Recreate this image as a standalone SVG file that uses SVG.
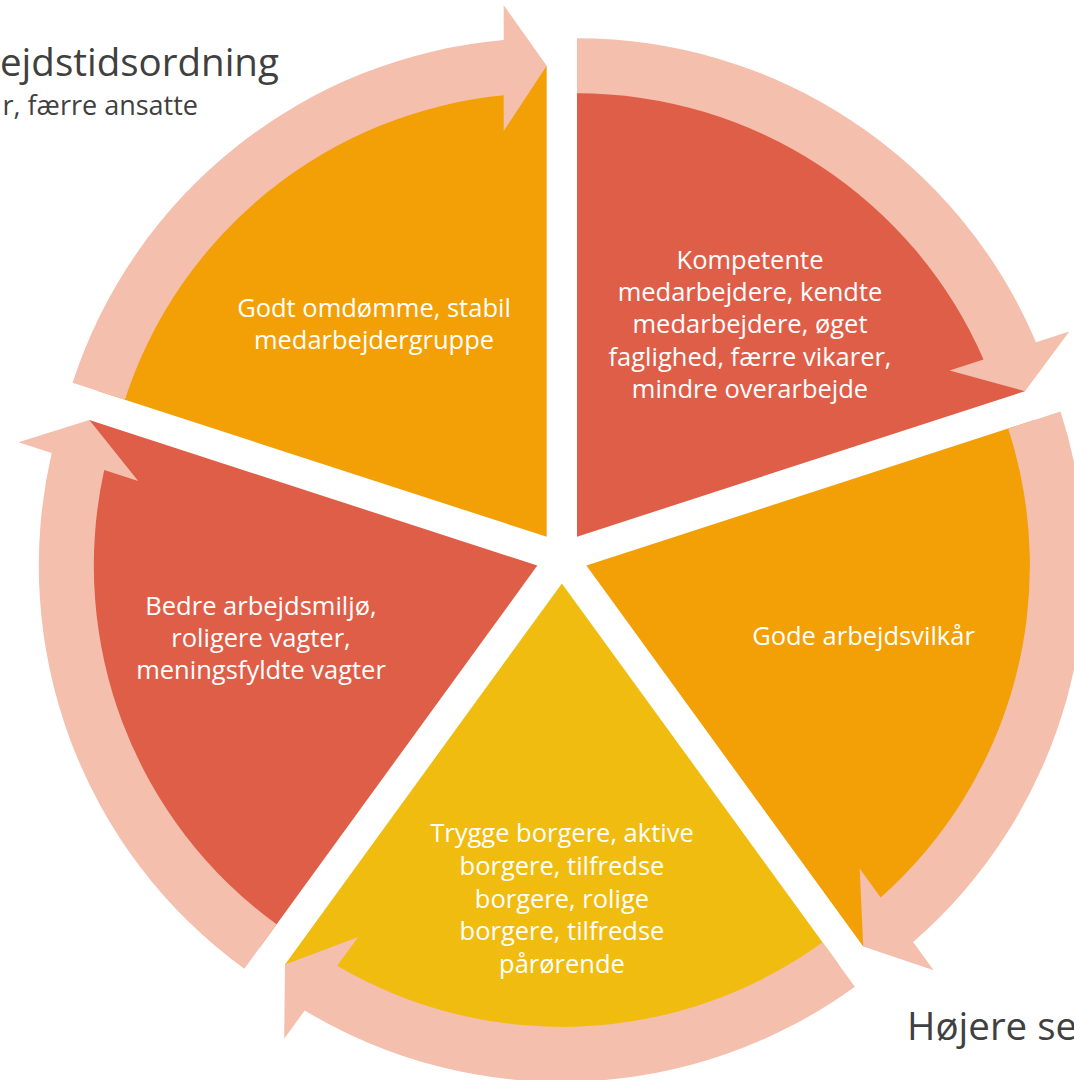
<svg xmlns="http://www.w3.org/2000/svg" width="1074" height="1080" viewBox="0 0 1074 1080">
<style>
.lbl{font-family:"Open Sans","Noto Sans",sans-serif;font-size:25.5px;fill:#FFFFFF;text-anchor:middle}
.out{font-family:"Open Sans","Noto Sans",sans-serif;fill:#404040}
.arrow{fill:#F4BFAD}
.red{fill:#DF5E48}
.orange{fill:#F2A006}
.yellow{fill:#F0BC0F}
</style>
<defs>
<path id="seg" d="M15.165 -20.873 L15.165 -491.873 A471 471 0 0 1 463.115 -166.423 Z"/>
<path id="arr" d="M15.165 -519.373 A498.5 498.5 0 0 1 474.225 -215.243 L507.455 -226.043 L463.115 -166.423 L387.715 -187.143 L421.665 -198.203 A443.5 443.5 0 0 0 15.165 -464.373 Z"/>
</defs>
<rect width="1074" height="1080" fill="#FFFFFF"/>
<g id="node-kompetente">
<use href="#seg" class="red" transform="translate(561.85 557.6)"/>
<text class="lbl" x="750" y="269">Kompetente</text>
<text class="lbl" x="750" y="301">medarbejdere, kendte</text>
<text class="lbl" x="750" y="333">medarbejdere, øget</text>
<text class="lbl" x="750" y="366">faglighed, færre vikarer,</text>
<text class="lbl" x="750" y="398">mindre overarbejde</text>
</g>
<g id="node-arbejdsvilkaar">
<use href="#seg" class="orange" transform="translate(561.85 557.6) rotate(72)"/>
<text class="lbl" x="863.5" y="645">Gode arbejdsvilkår</text>
</g>
<g id="node-borgere">
<use href="#seg" class="yellow" transform="translate(561.85 557.6) rotate(144)"/>
<text class="lbl" x="562" y="842">Trygge borgere, aktive</text>
<text class="lbl" x="562" y="875">borgere, tilfredse</text>
<text class="lbl" x="562" y="908">borgere, rolige</text>
<text class="lbl" x="562" y="940">borgere, tilfredse</text>
<text class="lbl" x="562" y="973">pårørende</text>
</g>
<g id="node-arbejdsmiljo">
<use href="#seg" class="red" transform="translate(561.85 557.6) rotate(216)"/>
<text class="lbl" x="261" y="615">Bedre arbejdsmiljø,</text>
<text class="lbl" x="261" y="647">roligere vagter,</text>
<text class="lbl" x="261" y="679">meningsfyldte vagter</text>
</g>
<g id="node-omdomme">
<use href="#seg" class="orange" transform="translate(561.85 557.6) rotate(288)"/>
<text class="lbl" x="374" y="317">Godt omdømme, stabil</text>
<text class="lbl" x="374" y="349">medarbejdergruppe</text>
</g>
<g id="connectors">
<use href="#arr" class="arrow" transform="translate(561.85 557.6)"/>
<use href="#arr" class="arrow" transform="translate(561.85 557.6) rotate(72)"/>
<use href="#arr" class="arrow" transform="translate(561.85 557.6) rotate(144)"/>
<use href="#arr" class="arrow" transform="translate(561.85 557.6) rotate(216)"/>
<use href="#arr" class="arrow" transform="translate(561.85 557.6) rotate(288)"/>
</g>
<g id="outside-labels">
<text class="out" x="0" y="76" font-size="38.5">ejdstidsordning</text>
<text class="out" x="198" y="115" font-size="27" text-anchor="end">r, færre ansatte</text>
<text class="out" x="907" y="1040" font-size="38.5">Højere se</text>
</g>
</svg>
